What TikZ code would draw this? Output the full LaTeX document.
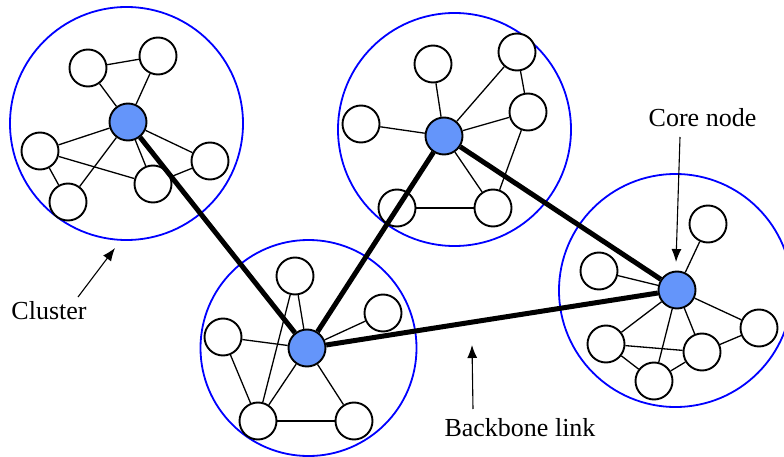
\documentclass[tikz,border=0pt]{standalone}
\usepackage{fontspec}
\setmainfont{Liberation Serif}
\usetikzlibrary{arrows.meta}
\definecolor{coreblue}{RGB}{100,149,250}

\begin{document}
\begin{tikzpicture}[x=1pt, y=-1pt,
    member/.style={circle, draw, fill=white, line width=1.9pt, minimum size=37pt, inner sep=0pt},
    core/.style={member, fill=coreblue},
    cluster/.style={circle, draw=blue, line width=1.8pt, inner sep=0pt, minimum size=#1},
    link/.style={line width=1.3pt},
    backbone/.style={line width=5pt},
    pointer/.style={-{Latex[length=13pt, width=10pt]}, line width=1.1pt},
    caption/.style={font=\fontsize{26}{30}\selectfont, inner sep=0pt}]
  \useasboundingbox (0,0) rectangle (784,457);
  \clip (0,0) rectangle (784,457);

  % clusters
  \node[cluster=233pt] (K1) at (126.5,123.5) {};
  \node[cluster=233pt] (K2) at (454.5,129.5) {};
  \node[cluster=216pt] (K3) at (308.5,348) {};
  \node[cluster=233pt] (K4) at (675.5,290.5) {};

  % cluster 1
  \node[core] (C1) at (128,122) {};
  \node[member] (A1) at (88,68) {};
  \node[member] (A2) at (158,56) {};
  \node[member] (A3) at (40,151) {};
  \node[member] (A4) at (68,202) {};
  \node[member] (A5) at (153,184) {};
  \node[member] (A6) at (210,161) {};
  \draw[link] (A1) -- (A2);
  \draw[link] (C1) -- (A1);
  \draw[link] (C1) -- (A2);
  \draw[link] (C1) -- (A3);
  \draw[link] (C1) -- (A4);
  \draw[link] (C1) -- (A5);
  \draw[link] (C1) -- (A6);
  \draw[link] (A3) -- (A4);
  \draw[link] (A3) -- (A5);
  \draw[link] (A5) -- (A6);

  % cluster 2
  \node[core] (C2) at (444,136) {};
  \node[member] (B1) at (433,64) {};
  \node[member] (B2) at (517,52) {};
  \node[member] (B3) at (528,112) {};
  \node[member] (B4) at (361,124) {};
  \node[member] (B5) at (397,208) {};
  \node[member] (B6) at (493,208) {};
  \draw[link] (C2) -- (B1);
  \draw[link] (C2) -- (B2);
  \draw[link] (C2) -- (B3);
  \draw[link] (C2) -- (B4);
  \draw[link] (C2) -- (B5);
  \draw[link] (C2) -- (B6);
  \draw[link] (B2) -- (B3);
  \draw[link] (B3) -- (B6);
  \draw[link] (B5) -- (B6);

  % cluster 3
  \node[core] (C3) at (307,348) {};
  \node[member] (D1) at (295,276) {};
  \node[member] (D2) at (383,313) {};
  \node[member] (D3) at (223,337) {};
  \node[member] (D4) at (258,421) {};
  \node[member] (D5) at (354,421) {};
  \draw[link] (C3) -- (D1);
  \draw[link] (C3) -- (D2);
  \draw[link] (C3) -- (D3);
  \draw[link] (C3) -- (D4);
  \draw[link] (C3) -- (D5);
  \draw[link] (D1) -- (D4);
  \draw[link] (D3) -- (D4);
  \draw[link] (D4) -- (D5);

  % cluster 4
  \node[core] (C4) at (677,290) {};
  \node[member] (E1) at (708,224) {};
  \node[member] (E2) at (599,271) {};
  \node[member] (E3) at (606,344) {};
  \node[member] (E4) at (654,381) {};
  \node[member] (E5) at (702,352) {};
  \node[member] (E6) at (759,328) {};
  \draw[link] (C4) -- (E1);
  \draw[link] (C4) -- (E2);
  \draw[link] (C4) -- (E3);
  \draw[link] (C4) -- (E4);
  \draw[link] (C4) -- (E5);
  \draw[link] (C4) -- (E6);
  \draw[link] (E3) -- (E5);
  \draw[link] (E3) -- (E4);
  \draw[link] (E4) -- (E5);
  \draw[link] (E5) -- (E6);

  % backbone between the core nodes
  \draw[backbone] (C1) -- (C3);
  \draw[backbone] (C2) -- (C3);
  \draw[backbone] (C2) -- (C4);
  \draw[backbone] (C3) -- (C4);

  % captions and their pointers
  \node[caption] (cluster) at (49,311) {Cluster};
  \node[caption] (link) at (520,428) {Backbone link};
  \node[caption] (corenode) at (702.5,118) {Core node};
  \coordinate (clusterfrom) at (78,297);
  \coordinate (clustertip) at (115,248);
  \coordinate (linkfrom) at (473,409);
  \coordinate (linktip) at (472,345);
  \coordinate (corefrom) at (680,137);
  \coordinate (coretip) at (676,262);
  \draw[pointer] (clusterfrom) -- (clustertip);
  \draw[pointer] (linkfrom) -- (linktip);
  \draw[pointer] (corefrom) -- (coretip);
\end{tikzpicture}
\end{document}
